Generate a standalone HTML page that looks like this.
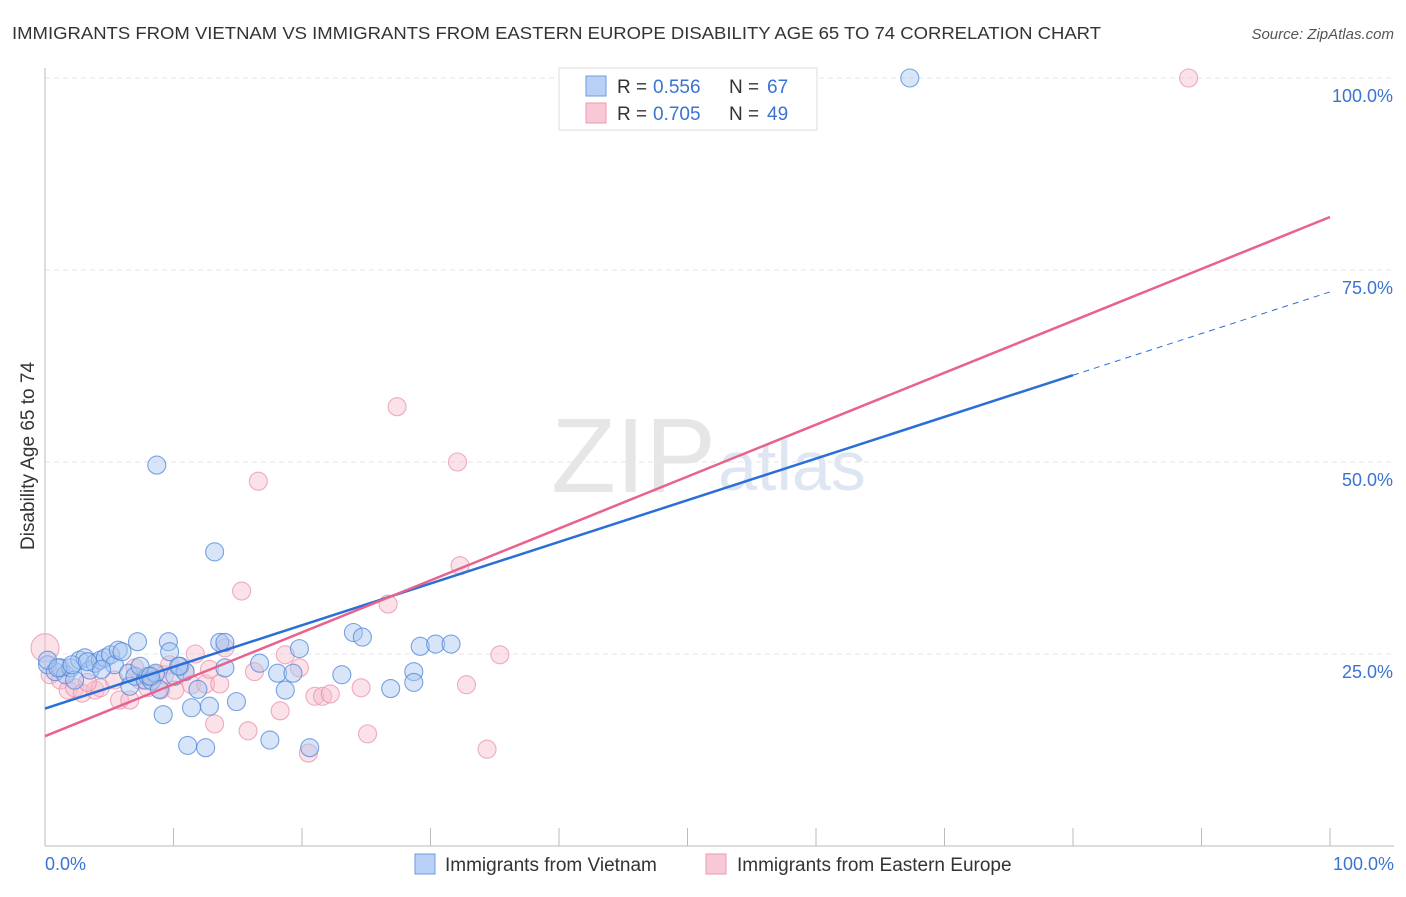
<!DOCTYPE html>
<html><head><meta charset="utf-8"><style>
body{margin:0;background:#fff;font-family:"Liberation Sans",sans-serif}
svg text{font-family:"Liberation Sans",sans-serif}
</style></head><body>
<svg id="chart" width="1406" height="892">
<text x="12" y="39" font-size="17.5" fill="#333" textLength="1089" lengthAdjust="spacingAndGlyphs">IMMIGRANTS FROM VIETNAM VS IMMIGRANTS FROM EASTERN EUROPE DISABILITY AGE 65 TO 74 CORRELATION CHART</text>
<text x="1394" y="39" font-size="15" fill="#555" text-anchor="end" font-style="italic">Source: ZipAtlas.com</text>
<text x="716" y="492" font-size="106" fill="#e6e6e6" text-anchor="end" font-family="Liberation Serif">ZIP</text>
<text x="718" y="490" font-size="70" fill="#dde6f2">atlas</text>
<g id="grid"></g><g id="axes"></g><g id="pts"></g><g id="lines"></g>
<text x="34" y="456" font-size="19" fill="#333" text-anchor="middle" transform="rotate(-90 34 456)">Disability Age 65 to 74</text>
<text x="45" y="870" font-size="18" fill="#3b73d1">0.0%</text>
<text x="1394" y="870" font-size="18" fill="#3b73d1" text-anchor="end">100.0%</text>
<g>
<rect x="559" y="68" width="258" height="62" fill="#fff" stroke="#ddd"/>
<rect x="586" y="76" width="20" height="20" fill="#b8d0f5" stroke="#6f9be0"/>
<text x="617" y="93" font-size="19" fill="#333">R = </text><text x="653" y="93" font-size="19" fill="#3b73d1">0.556</text>
<text x="729" y="93" font-size="19" fill="#333">N = </text><text x="767" y="93" font-size="19" fill="#3b73d1">67</text>
<rect x="586" y="103" width="20" height="20" fill="#f8c8d6" stroke="#ec98b0"/>
<text x="617" y="120" font-size="19" fill="#333">R = </text><text x="653" y="120" font-size="19" fill="#3b73d1">0.705</text>
<text x="729" y="120" font-size="19" fill="#333">N = </text><text x="767" y="120" font-size="19" fill="#3b73d1">49</text>
</g>
<g>
<rect x="415" y="854" width="20" height="20" fill="#b8d0f5" stroke="#6f9be0"/>
<text x="445" y="871" font-size="19" fill="#333">Immigrants from Vietnam</text>
<rect x="706" y="854" width="20" height="20" fill="#f8c8d6" stroke="#ec98b0"/>
<text x="737" y="871" font-size="19" fill="#333">Immigrants from Eastern Europe</text>
</g>
</svg>
<script>
const yTicks=[25,50,75,100];
const xTickVals=[0,10,20,30,40,50,60,70,80,90,100];
const blueX=[0.2,0.8,1.2,1.6,2,2.3,2.7,3.1,3.5,3.9,4.3,4.7,5.1,5.4,5.7,6,6.5,6.6,7,7.2,7.8,8,8.3,8.6,8.7,8.9,9.2,9.6,9.7,10.1,10.5,10.9,11.1,11.4,11.9,12.5,12.8,13.2,13.6,14,14,14.9,16.7,17.5,18.1,18.7,19.3,19.8,20.6,23.1,24,24.7,26.9,28.7,28.7,29.2,30.4,31.6,67.3,0.2,1,2.1,3.3,4.4,7.4,8.2,10.4];
const blueY=[23.6,22.7,23.2,22.3,23.2,21.6,24.2,24.5,22.9,23.8,24.2,24.5,24.9,23.6,25.5,25.3,22.5,20.8,22.1,26.6,21.6,22.1,21.5,22.5,49.6,20.4,17.1,26.6,25.3,22.1,23.4,22.7,13.1,18,20.4,12.8,18.2,38.3,26.5,26.5,23.2,18.8,23.8,13.8,22.5,20.3,22.5,25.7,12.8,22.3,27.8,27.2,20.5,22.7,21.3,26,26.3,26.3,100,24.2,23.2,23.6,24,23,23.4,22.1,23.4];
const pinkX=[0,0.4,1.2,1.8,2.3,2.9,3.9,4.3,5.4,5.8,6.6,7.4,8,8.6,9,9.3,10.1,10.9,11.4,11.7,12.5,12.8,13.2,13.6,14,15.3,15.8,16.3,16.6,18.3,18.7,19.8,20.5,21,21.6,22.2,24.6,25.1,26.7,27.4,32.1,32.3,32.8,34.4,35.4,89,7,3.3,9.7];
const pinkY=[25.8,22.3,21.6,20.3,20.6,19.9,20.3,20.6,21.6,19,19,21.6,20.6,22.3,20.3,22.3,20.3,22.7,21,25,21.1,23,15.9,21.1,25.8,33.2,15,22.7,47.5,17.6,24.9,23.2,12.1,19.5,19.5,19.8,20.6,14.6,31.5,57.2,50,36.5,21,12.6,24.9,100,23.2,21.3,23.6];
const blueFit=[17.9,61.3], blueEnd=80;
const pinkFit=[14.3,81.9];
const NS='http://www.w3.org/2000/svg';
const X=v=>45+v*12.85, Y=v=>846-v*7.68;
function mk(t,a,p){const e=document.createElementNS(NS,t);for(const k in a)e.setAttribute(k,a[k]);p.appendChild(e);return e;}
const grid=document.getElementById('grid'),axes=document.getElementById('axes'),pts=document.getElementById('pts'),lines=document.getElementById('lines');
yTicks.forEach(t=>{
 const l=mk('line',{x1:45,x2:1394,y1:Y(t),y2:Y(t),stroke:'#e6e6e6','stroke-dasharray':'5,4'},grid);
 
 
 const tx=mk('text',{x:1393,y:Y(t)+24,'font-size':18,fill:'#3b73d1','text-anchor':'end'},grid);
 tx.textContent=t.toFixed(1)+'%';
 
 
});
let a=mk('line',{x1:45,x2:45,y1:68,y2:846,stroke:'#bbb'},axes);


a=mk('line',{x1:45,x2:1394,y1:846,y2:846,stroke:'#bbb'},axes);


xTickVals.forEach(t=>{const l=mk('line',{x1:X(t),x2:X(t),y1:828,y2:846,stroke:'#bbb'},axes);
 
 });
function dots(xs,ys,fill,stroke,name){xs.forEach((x,i)=>{const r=(name==='pink-point'&&i===0)?14:9;
 const c=mk('circle',{cx:X(x),cy:Y(ys[i]),r:r,fill:fill,'fill-opacity':0.45,stroke:stroke,'stroke-opacity':0.75,'stroke-width':1.1},pts);
 
 });}
dots(pinkX,pinkY,'#f7bccd','#e991ab','pink-point');
dots(blueX,blueY,'#a9c6f0','#4f86d9','blue-point');
let l=mk('line',{x1:X(0),y1:Y(blueFit[0]),x2:X(blueEnd),y2:Y(blueFit[1]),stroke:'#2b6fd6','stroke-width':2.5},lines);


const slope=(blueFit[1]-blueFit[0])/blueEnd;
l=mk('line',{x1:X(blueEnd),y1:Y(blueFit[1]),x2:X(100),y2:Y(blueFit[0]+slope*100),stroke:'#2b6fd6','stroke-width':1,'stroke-dasharray':'6,5'},lines);


l=mk('line',{x1:X(0),y1:Y(pinkFit[0]),x2:X(100),y2:Y(pinkFit[1]),stroke:'#e8628e','stroke-width':2.5},lines);


</script>
</body></html>
